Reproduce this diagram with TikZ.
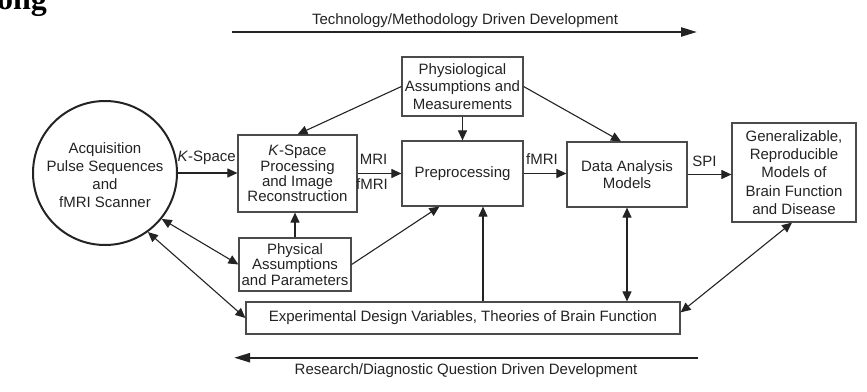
\documentclass[tikz,border=0pt]{standalone}
\usepackage{fontspec}
\newfontfamily\arialf{Liberation Sans}
\newfontfamily\headf{Liberation Serif}
\usetikzlibrary{arrows.meta,calc}
\definecolor{ink}{RGB}{35,35,35}
\definecolor{boxc}{RGB}{75,75,75}
\begin{document}
\begin{tikzpicture}[x=1pt,y=-1pt,
  every node/.style={text=ink},
  box/.style={draw=boxc, line width=1.2pt, rectangle, inner sep=0pt, align=center, font=\arialf\fontsize{15}{18}\selectfont},
  arr/.style={draw=ink, line width=1.1pt, -{Triangle[length=10pt,width=9pt]}},
  darr/.style={draw=ink, line width=1.1pt, {Triangle[length=10pt,width=9pt]}-{Triangle[length=10pt,width=9pt]}},
  lbl/.style={font=\arialf\fontsize{15}{18}\selectfont, inner sep=0pt, anchor=base},
  bigarr/.style={draw=ink, line width=2.3pt, -{Triangle[length=16pt,width=9pt]}},
]
\useasboundingbox (0,0) rectangle (867,391);

% cropped heading fragment
\node[anchor=base east, inner sep=0pt, text=black, font=\headf\bfseries\fontsize{32}{32}\selectfont] (hd) at (47,9) {ong};

% nodes
\node[draw=ink, line width=2pt, circle, minimum size=144pt, inner sep=0pt] (acq) at (105,173) {};
\node[lbl, anchor=center, align=center] (acqt) at (105,175.5) {Acquisition\\Pulse Sequences\\and\\fMRI Scanner};

\node[box, minimum width=119pt, minimum height=77pt, font=\arialf\fontsize{15}{15.3}\selectfont] (ksp) at (297.5,173.5) {\textit{K}-Space\\Processing\\and Image\\Reconstruction};
\node[box, minimum width=112pt, minimum height=53pt, font=\arialf\fontsize{15}{15.2}\selectfont] (phys) at (295,264.5) {Physical\\Assumptions\\and Parameters};
\node[box, minimum width=121pt, minimum height=59pt, font=\arialf\fontsize{15}{17.5}\selectfont] (physio) at (462.5,86.5) {Physiological\\Assumptions and\\Measurements};
\node[box, minimum width=121pt, minimum height=65pt] (prep) at (462.5,173.5) {Preprocessing};
\node[box, minimum width=120pt, minimum height=65pt, font=\arialf\fontsize{15}{17.7}\selectfont] (data) at (627,174.5) {Data Analysis\\Models};
\node[box, minimum width=124pt, minimum height=99pt, font=\arialf\fontsize{15}{18.3}\selectfont] (gen) at (794,172.5) {Generalizable,\\Reproducible\\Models of\\Brain Function\\and Disease};
\node[box, minimum width=434pt, minimum height=32pt] (exp) at (463,318) {Experimental Design Variables, Theories of Brain Function};

% main flow
\draw[arr] (acq.east) -- node[lbl, yshift=11.6pt, xshift=-1pt] (lk) {\textit{K}-Space} (acq.east -| ksp.west);
\draw[arr] (ksp.east) -- node[lbl, yshift=9.3pt, xshift=-6pt] (lm) {MRI} node[lbl, yshift=-15.7pt, xshift=-7.5pt] (lf) {fMRI} (ksp.east -| prep.west);
\draw[arr] (prep.east) -- node[lbl, yshift=9.3pt, xshift=-3pt] (lf2) {fMRI} (prep.east -| data.west);
\draw[arr] (data.east) -- node[lbl, yshift=8.3pt, xshift=-5pt] (ls) {SPI} (data.east -| gen.west);

% assumptions
\draw[arr] (physio.south) -- (prep.north);
\draw[arr] (physio.west) -- (ksp.north);
\draw[arr] (physio.east) -- ($(data.north)+(-6,0)$);
\draw[arr] (phys.north) -- (phys.north |- ksp.south);
\draw[arr] (phys.east) -- ($(prep.south west)+(38,0)$);

% feedback
\draw[darr] (acq.-39) -- (phys.west);
\draw[darr] (acq.-54) -- (exp.west);
\coordinate (vx) at (483,0);
\draw[arr] (vx |- exp.north) -- (vx |- prep.south);
\draw[darr] (data.south) -- (data.south |- exp.north);
\draw[darr] ($(exp.north east)+(0,11)$) -- ($(gen.south)+(-2,0)$);

% development arrows
\coordinate (t1) at (232,32);
\coordinate (t2) at (697,32);
\draw[bigarr] (t1) -- (t2);
\node[lbl] (ttl) at (465,24) {Technology/Methodology Driven Development};
\coordinate (b1) at (698,357.7);
\coordinate (b2) at (234,357.7);
\draw[bigarr] (b1) -- (b2);
\node[lbl] (btl) at (466,374) {Research/Diagnostic Question Driven Development};
\end{tikzpicture}
\end{document}
